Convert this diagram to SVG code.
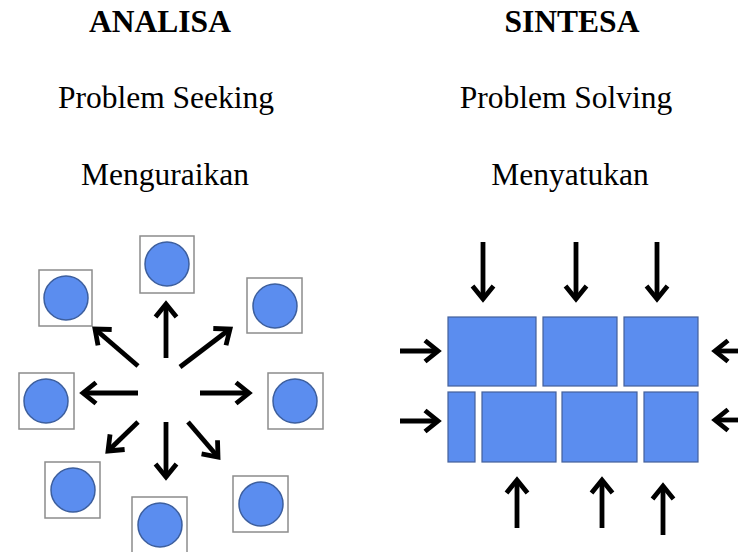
<svg xmlns="http://www.w3.org/2000/svg" width="738" height="552" viewBox="0 0 738 552">
<style>
.t{font-family:"Liberation Serif","Times New Roman",serif;font-size:31.5px;fill:#000;text-anchor:middle}
.b{font-weight:bold}
.box{fill:#fff;stroke:#8c8c8c;stroke-width:1.5}
.dot{fill:#5b8def;stroke:#3d5f9e;stroke-width:1.5}
.blk{fill:#5b8def;stroke:#44609a;stroke-width:1.2}
.ar{stroke:#000;stroke-width:4.8;fill:none;marker-end:url(#ah)}
</style>
<defs>
<marker id="ah" markerUnits="userSpaceOnUse" viewBox="-18 -14 22 28" markerWidth="22" markerHeight="28" refX="0" refY="0" orient="auto" overflow="visible">
<path d="M-13,-10.5 L0,0 L-13,10.5" fill="none" stroke="#000" stroke-width="4.8" stroke-linejoin="miter"/>
</marker>
</defs>
<rect width="738" height="552" fill="#fff"/>
<g id="labels">
<text class="t b" x="160" y="32">ANALISA</text>
<text class="t b" x="572" y="32">SINTESA</text>
<text class="t" x="166" y="108">Problem Seeking</text>
<text class="t" x="566" y="108">Problem Solving</text>
<text class="t" x="165" y="185">Menguraikan</text>
<text class="t" x="570" y="185">Menyatukan</text>
</g>
<g id="n-top"><rect class="box" x="140" y="236" width="54" height="57"/><circle class="dot" cx="167" cy="264" r="22"/></g>
<g id="n-upleft"><rect class="box" x="39" y="270" width="53" height="56"/><circle class="dot" cx="66" cy="298" r="22"/></g>
<g id="n-upright"><rect class="box" x="247" y="278" width="55" height="55"/><circle class="dot" cx="275" cy="306" r="22"/></g>
<g id="n-left"><rect class="box" x="19" y="373" width="55" height="56"/><circle class="dot" cx="46" cy="401" r="22"/></g>
<g id="n-right"><rect class="box" x="268" y="373" width="55" height="56"/><circle class="dot" cx="295" cy="401" r="22"/></g>
<g id="n-lowleft"><rect class="box" x="45" y="462" width="55" height="56"/><circle class="dot" cx="73" cy="490" r="22"/></g>
<g id="n-bottom"><rect class="box" x="132" y="497" width="55" height="56"/><circle class="dot" cx="160" cy="525" r="22"/></g>
<g id="n-lowright"><rect class="box" x="233" y="476" width="55" height="56"/><circle class="dot" cx="261" cy="504" r="22"/></g>
<g id="b1"><rect class="blk" x="448" y="317" width="88" height="69"/></g>
<g id="b2"><rect class="blk" x="543" y="317" width="74" height="69"/></g>
<g id="b3"><rect class="blk" x="624" y="317" width="74" height="69"/></g>
<g id="b4"><rect class="blk" x="448" y="392" width="27" height="70"/></g>
<g id="b5"><rect class="blk" x="482" y="392" width="74" height="70"/></g>
<g id="b6"><rect class="blk" x="562" y="392" width="75" height="70"/></g>
<g id="b7"><rect class="blk" x="644" y="392" width="54" height="70"/></g>
<g id="connectors">
<line class="ar" x1="166" y1="358" x2="166" y2="304"/>
<line class="ar" x1="138" y1="366" x2="95" y2="329"/>
<line class="ar" x1="180" y1="367" x2="230" y2="329"/>
<line class="ar" x1="138" y1="393" x2="83" y2="393"/>
<line class="ar" x1="200" y1="393" x2="249" y2="393"/>
<line class="ar" x1="138" y1="422" x2="108" y2="451"/>
<line class="ar" x1="166" y1="422" x2="166" y2="477"/>
<line class="ar" x1="188" y1="422" x2="218" y2="457"/>
<line class="ar" x1="483" y1="242" x2="483" y2="299"/>
<line class="ar" x1="576" y1="242" x2="576" y2="299"/>
<line class="ar" x1="657" y1="242" x2="657" y2="299"/>
<line class="ar" x1="517" y1="528" x2="517" y2="480"/>
<line class="ar" x1="602" y1="528" x2="602" y2="480"/>
<line class="ar" x1="663" y1="535" x2="663" y2="486"/>
<line class="ar" x1="400" y1="351" x2="438" y2="351"/>
<line class="ar" x1="400" y1="421" x2="438" y2="421"/>
<line class="ar" x1="740" y1="351" x2="715" y2="351"/>
<line class="ar" x1="740" y1="420" x2="715" y2="420"/>
</g>
</svg>
